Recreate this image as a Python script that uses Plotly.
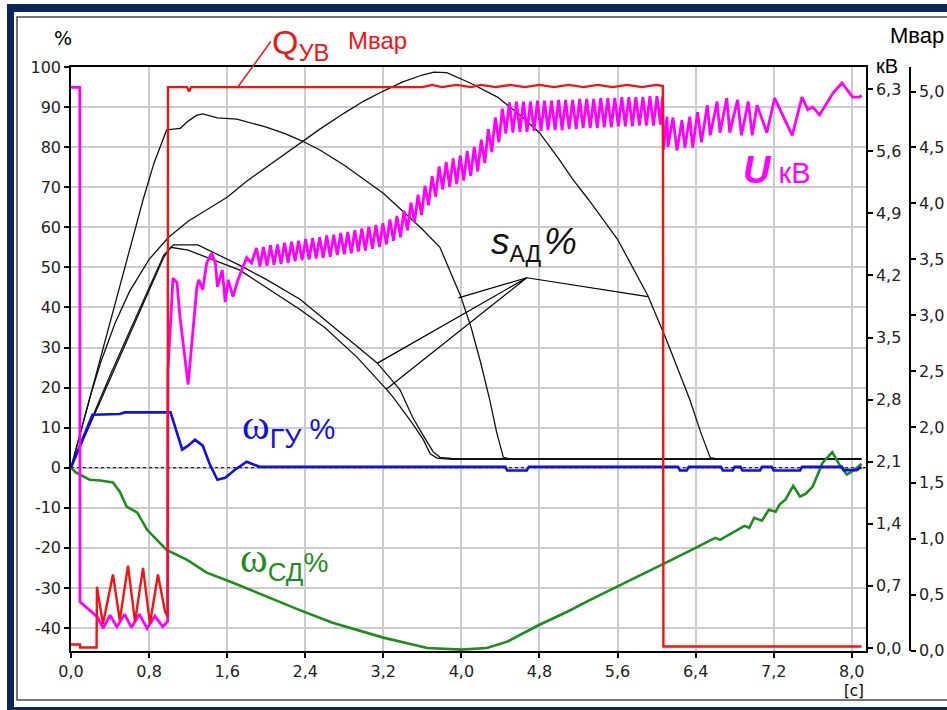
import numpy as np
import plotly.graph_objects as go

# ---------------- ticks ----------------
X_TICKS = [0, 0.8, 1.6, 2.4, 3.2, 4.0, 4.8, 5.6, 6.4, 7.2, 8.0]
X_TICK_TEXT = ["0,0", "0,8", "1,6", "2,4", "3,2", "4,0", "4,8", "5,6", "6,4", "7,2", "8,0"]
PCT_TICKS = [100, 90, 80, 70, 60, 50, 40, 30, 20, 10, 0, -10, -20, -30, -40]
PCT_TICK_TEXT = ["100", "90", "80", "70", "60", "50", "40", "30", "20", "10", "0", "-10", "-20", "-30", "-40"]
KV_TICKS = [0.0, 0.7, 1.4, 2.1, 2.8, 3.5, 4.2, 4.9, 5.6, 6.3]
KV_TICK_TEXT = ["0,0", "0,7", "1,4", "2,1", "2,8", "3,5", "4,2", "4,9", "5,6", "6,3"]
MVAR_TICKS = [0.0, 0.5, 1.0, 1.5, 2.0, 2.5, 3.0, 3.5, 4.0, 4.5, 5.0]
MVAR_TICK_TEXT = ["0,0", "0,5", "1,0", "1,5", "2,0", "2,5", "3,0", "3,5", "4,0", "4,5", "5,0"]

# ---------------- slip of induction motors s_AD, % ----------------
A_t = [0, 0.1, 0.2, 0.4, 0.6, 0.74, 0.85, 0.94, 0.98, 1.05, 1.12, 1.2, 1.29, 1.35, 1.5, 1.7, 2.0, 2.2, 2.38,
       2.55, 2.8, 3.0, 3.2, 3.4, 3.6, 3.78, 3.99, 4.1, 4.2, 4.29, 4.36, 4.43, 4.5, 8.1]
A_pct = [0, 9, 18, 36, 54, 67, 76, 82, 84.3, 84.5, 84.7, 86.5, 88, 88.3, 87.3, 87, 85, 83.3, 81.4,
         79.3, 75.5, 72, 68.5, 64, 59.5, 55, 43, 35, 26, 17, 9, 2.6, 2.2, 2.2]

B_t = [0, 0.2, 0.4, 0.6, 0.8, 0.95, 1.05, 1.3, 1.73, 2.0, 2.35, 2.7, 3.07, 3.14, 3.37, 3.5, 3.61, 3.71, 3.78, 3.9, 8.1]
B_pct = [0, 11.5, 23, 34, 45, 53, 55.6, 55.6, 50.5, 47, 42, 35, 27.6, 26.1, 19.5, 12.6, 8, 4, 2.6, 2.3, 2.2]

C_t = [0, 0.2, 0.4, 0.6, 0.8, 0.95, 1.02, 1.2, 1.73, 2.0, 2.35, 2.6, 2.93, 3.23, 3.30, 3.5, 3.61, 3.68, 3.75, 3.9, 8.1]
C_pct = [0, 11, 22, 33, 44, 52.5, 55, 54.3, 49.3, 45, 39.4, 35, 27.6, 19.6, 17.6, 11, 7, 3.5, 2.4, 2.1, 2.1]

D_t = [0, 0.1, 0.2, 0.3, 0.45, 0.6, 0.8, 1.0, 1.2, 1.4, 1.6, 1.8, 2.0, 2.2, 2.4, 2.55, 2.8, 3.0, 3.2, 3.4,
       3.6, 3.72, 3.85, 4.09, 4.37, 4.6, 4.8, 5.0, 5.14, 5.3, 5.6, 5.91, 6.1, 6.34, 6.45, 6.55, 6.62, 8.1]
D_pct = [0, 9, 18, 26, 36, 44, 52, 57.5, 61.5, 64.5, 67.5, 71.5, 75, 78.5, 82, 84.5, 88.5, 91.5, 94, 96.3,
         98, 98.7, 98.6, 96, 92.5, 88, 83.6, 77, 72, 67, 57, 43, 32, 17, 9, 2.5, 2.2, 2.2]

# ---------------- speed of hydro unit omega_GU, % ----------------
GU_t = [0, 0.22, 0.5, 0.55, 1.02, 1.08, 1.14, 1.2, 1.27, 1.35, 1.42, 1.5, 1.58, 1.68, 1.8, 1.87, 1.94, 2.0,
        4.45, 4.47, 4.67, 4.69, 6.22, 6.24, 6.31, 6.33, 6.66, 6.68, 6.78, 6.8, 6.86, 6.88, 7.06, 7.08,
        7.18, 7.2, 7.47, 7.49, 7.9, 7.92, 8.05, 8.1]
GU_pct = [0, 13.2, 13.4, 13.8, 13.8, 9, 4.5, 5.5, 7, 5.5, 1, -3, -2.5, -0.5, 1.5, 0.8, 0.2, 0.2,
          0.2, -0.7, -0.7, 0.2, 0.2, -0.7, -0.7, 0.2, 0.2, -0.7, -0.7, 0.2, 0.2, -0.7, -0.7, 0.2,
          0.2, -0.7, -0.7, 0.2, 0.2, -0.6, -0.6, 0.2]

# ---------------- speed of synchronous motor omega_SD, % ----------------
SD_t = [0, 0.05, 0.19, 0.30, 0.43, 0.50, 0.57, 0.68, 0.78, 0.88, 0.98, 1.19, 1.39, 1.66, 2.0, 2.35, 2.68, 3.2,
        3.65, 4.0, 4.26, 4.47, 4.8, 5.08, 5.32, 5.7, 6.07, 6.4, 6.6, 6.65, 6.9, 6.95, 7.0, 7.08, 7.15, 7.22,
        7.26, 7.32, 7.40, 7.47, 7.53, 7.60, 7.70, 7.80, 7.88, 7.95, 8.03, 8.1]
SD_pct = [0, -1.2, -3.0, -3.2, -3.7, -6, -9.7, -11.2, -15.5, -18, -20.5, -23, -26.2, -28.7, -32.2, -35.6, -38.7, -42.4,
          -45, -45.4, -45, -43.4, -39.2, -36, -33, -28.5, -24, -20, -17.5, -18, -14.5, -15, -12.5, -13.2, -10.5, -11,
          -9.2, -8, -4.5, -7.2, -6.5, -4.7, 1.2, 3.9, 0.5, -1.7, -0.5, 1.0]

# ---------------- voltage U, kV ----------------
U_t_pre = [0, 0.09, 0.092, 0.27, 0.33, 0.40, 0.47, 0.55, 0.62, 0.70, 0.78, 0.86, 0.94, 0.99, 0.994, 1.045, 1.086,
           1.117, 1.2, 1.24, 1.29, 1.31, 1.35, 1.39, 1.44, 1.48, 1.5, 1.55, 1.58, 1.61, 1.66, 1.71, 1.75, 1.80, 1.85]
U_kv_pre = [6.32, 6.32, 0.52, 0.35, 0.22, 0.37, 0.24, 0.38, 0.23, 0.38, 0.22, 0.36, 0.24, 0.30, 3.13, 4.17, 4.12,
            3.73, 2.97, 3.44, 4.07, 4.15, 4.04, 4.34, 4.45, 4.34, 4.07, 4.26, 3.90, 4.15, 3.96, 4.15, 4.26, 4.40, 4.34]
U_band_start = 1.90   # s, first sample of the rippled section
U_band_step = 0.036   # s, sampling step of the rippled section (peak/trough)
U_band_kv = [4.51, 4.30, 4.52, 4.31, 4.54, 4.32, 4.55, 4.33, 4.57, 4.34, 4.58, 4.36, 4.59, 4.37, 4.61, 4.38,
             4.62, 4.39, 4.63, 4.40, 4.65, 4.41, 4.66, 4.43, 4.68, 4.44, 4.69, 4.45, 4.71, 4.47, 4.73, 4.48,
             4.75, 4.50, 4.77, 4.52, 4.79, 4.55, 4.83, 4.59, 4.87, 4.63, 4.93, 4.71, 5.02, 4.80, 5.11, 4.88,
             5.21, 4.99, 5.32, 5.09, 5.43, 5.17, 5.48, 5.20, 5.52, 5.23, 5.55, 5.27, 5.60, 5.32, 5.65, 5.37,
             5.73, 5.47, 5.85, 5.59, 5.98, 5.70, 6.08, 5.80, 6.15, 5.81, 6.16, 5.82, 6.16, 5.82, 6.16, 5.83,
             6.17, 5.83, 6.17, 5.84, 6.17, 5.84, 6.18, 5.84, 6.18, 5.85, 6.18, 5.85, 6.19, 5.86, 6.19, 5.86,
             6.19, 5.86, 6.20, 5.87, 6.20, 5.87, 6.20, 5.88, 6.21, 5.88, 6.21, 5.88, 6.21, 5.89, 6.21, 5.89,
             6.22, 5.89, 6.22, 5.90]
U_t_post = [6.062, 6.07, 6.107, 6.117, 6.168, 6.209, 6.26, 6.29, 6.34, 6.37, 6.42, 6.46, 6.52, 6.55, 6.62, 6.65,
            6.72, 6.75, 6.83, 6.87, 6.94, 6.98, 7.03, 7.13, 7.21, 7.39, 7.49, 7.55, 7.60, 7.67, 7.81, 7.90, 8.01,
            8.08, 8.10]
U_kv_post = [6.22, 5.62, 5.99, 5.65, 5.98, 5.61, 5.95, 5.64, 5.99, 5.64, 6.04, 5.70, 6.12, 5.78, 6.16, 5.81,
             6.20, 5.81, 6.18, 5.78, 6.16, 5.78, 6.12, 5.81, 6.20, 5.78, 6.21, 6.07, 6.10, 6.01, 6.26, 6.37, 6.21,
             6.21, 6.23]

# ---------------- reactive power Q_UV, Mvar ----------------
Q_t = [0, 0.092, 0.093, 0.262, 0.266, 0.328, 0.43, 0.50, 0.584, 0.656, 0.738, 0.809, 0.891, 0.963, 0.99, 0.994,
       1.19, 1.21, 1.23, 3.6, 3.7, 3.8, 3.95, 4.1, 4.2, 4.35, 4.5, 4.65, 4.8, 4.95, 5.1, 5.25, 5.4, 5.55, 5.7,
       5.85, 6.0, 6.065, 6.07, 8.1]
Q_mvar = [0.054, 0.054, 0.027, 0.027, 0.57, 0.24, 0.68, 0.27, 0.76, 0.26, 0.74, 0.24, 0.68, 0.35, 0.30, 5.04,
          5.04, 5.00, 5.04, 5.04, 5.06, 5.04, 5.06, 5.04, 5.06, 5.04, 5.06, 5.04, 5.06, 5.04, 5.06, 5.04, 5.06, 5.04,
          5.06, 5.04, 5.06, 5.05, 0.036, 0.036]

# sampling grid of the rippled voltage section
U_band_t = list(np.round(U_band_start + U_band_step * np.arange(len(U_band_kv)), 4))
U_t = U_t_pre + U_band_t + U_t_post
U_kv = U_kv_pre + U_band_kv + U_kv_post

# ---------------- colours ----------------
RED = "#f01414"
MAGENTA = "#ff00ff"
BLUE = "#1010e0"
GREEN = "#1e8c1e"
BLACK = "#111111"
GRID = "#cccccc"
NAVY = "#0b2857"

fig = go.Figure()
for tt, yy in [(A_t, A_pct), (B_t, B_pct), (C_t, C_pct), (D_t, D_pct)]:
    fig.add_trace(go.Scatter(x=tt, y=yy, mode="lines", line=dict(color=BLACK, width=1.3), yaxis="y"))
fig.add_trace(go.Scatter(x=SD_t, y=SD_pct, mode="lines", line=dict(color=GREEN, width=2.6), yaxis="y"))
fig.add_trace(go.Scatter(x=GU_t, y=GU_pct, mode="lines", line=dict(color=BLUE, width=2.6), yaxis="y"))
fig.add_trace(go.Scatter(x=U_t, y=U_kv, mode="lines", line=dict(color=MAGENTA, width=2.8), yaxis="y2"))
fig.add_trace(go.Scatter(x=Q_t, y=Q_mvar, mode="lines", line=dict(color=RED, width=2.4), yaxis="y3"))

# pixel -> paper helpers (plot area: x 71..910 paper, y 67..651)
L, R_PAPER, T, B = 71, 910, 67, 651
def px(x):
    return (x - L) / (R_PAPER - L)
def py(y):
    return (B - y) / (B - T)

tickfont = dict(family="DejaVu Sans", size=16, color="#222222")
axis_common = dict(showline=True, linecolor="black", linewidth=1.5, ticks="outside", ticklen=5,
                   tickcolor="black", tickwidth=1.5, tickfont=tickfont, zeroline=False, automargin=False)

fig.update_layout(
    width=947, height=710, autosize=False,
    margin=dict(l=L, r=947 - R_PAPER, t=T, b=710 - B, autoexpand=False),
    paper_bgcolor="white", plot_bgcolor="white", showlegend=False,
    xaxis=dict(domain=[0, (866 - L) / (R_PAPER - L)], range=[0, 8.146], tickvals=X_TICKS, ticktext=X_TICK_TEXT,
               showgrid=True, gridcolor=GRID, gridwidth=1.5, mirror=True, **axis_common),
    yaxis=dict(range=[-45.74, 100], tickvals=PCT_TICKS, ticktext=PCT_TICK_TEXT, showgrid=True,
               gridcolor=GRID, gridwidth=1.5, **axis_common),
    yaxis2=dict(overlaying="y", side="right", anchor="x", range=[-0.034, 6.55], tickvals=KV_TICKS,
                ticktext=KV_TICK_TEXT, showgrid=False, **axis_common),
    yaxis3=dict(overlaying="y", side="right", anchor="free", position=1.0, range=[-0.004, 5.22],
                tickvals=MVAR_TICKS, ticktext=MVAR_TICK_TEXT, showgrid=False, **axis_common),
)

shapes = []
# dotted zero line
shapes.append(dict(type="line", xref="x", yref="y", x0=0, x1=8.146, y0=0, y1=0,
                   line=dict(color="black", width=1, dash="3px,3px"), layer="between"))
# leader lines for s_AD label
s_apex = (4.67, 47.4)
for (lx, ly) in [(5.91, 42.7), (3.97, 42.4), (3.14, 26.1), (3.23, 19.6)]:
    shapes.append(dict(type="line", xref="x", yref="y", x0=s_apex[0], y0=s_apex[1], x1=lx, y1=ly,
                       line=dict(color="black", width=1.2)))
# frame: navy border + thin inner frame
def rect(x0, y0, x1, y1, **kw):
    return dict(type="rect", xref="paper", yref="paper", x0=px(x0), x1=px(x1), y0=py(y1), y1=py(y0), **kw)
shapes.append(rect(17, 17, 975, 700, line=dict(color="#4a4a4a", width=1.5)))
shapes.append(rect(7, 4, 975, 12, fillcolor=NAVY, line=dict(width=0)))
shapes.append(rect(7, 4, 14, 720, fillcolor=NAVY, line=dict(width=0)))
shapes.append(rect(7, 707, 975, 720, fillcolor=NAVY, line=dict(width=0)))
fig.update_layout(shapes=shapes)

def ann(text, x, y, size, color="black", family="Liberation Sans", xanchor="center", yanchor="middle"):
    return dict(text=text, xref="paper", yref="paper", x=px(x), y=py(y), showarrow=False,
                font=dict(size=size, color=color, family=family), xanchor=xanchor, yanchor=yanchor)

annotations = [
    ann("%", 63, 38, 19, family="DejaVu Sans"),
    ann("кВ", 887, 66, 20),
    ann("Мвар", 917, 35, 22),
    ann("[c]", 854, 691, 15, family="DejaVu Sans"),
    ann("Q<sub>УВ</sub>", 270, 44, 34, RED, xanchor="left"),
    ann("Мвар", 346, 41, 24, RED, xanchor="left"),
    ann("<b><i>U</i></b><span style='font-size:29px'> кВ</span>", 741, 170, 38, MAGENTA, xanchor="left"),
    ann("<i>s</i><sub><span style='font-size:23px'>АД</span></sub><span style='font-size:10px'> </span><i>%</i>",
        489, 244, 37, BLACK, xanchor="left"),
    ann("<span style='font-family:Liberation Serif'>ω</span><sub><span style='font-size:27px'>ГУ</span></sub>"
        "<span style='font-size:29px'> %</span>", 240, 428, 42, BLUE, xanchor="left"),
    ann("<span style='font-family:Liberation Serif'>ω</span><sub><span style='font-size:26px'>СД</span></sub>"
        "<span style='font-size:28px'>%</span>", 238, 561, 42, GREEN, xanchor="left"),
    # leader for Q_UV label
    dict(text="", x=1.71, y=95.0, xref="x", yref="y", showarrow=True, arrowhead=0, arrowwidth=1.5,
         arrowcolor=RED, ax=34, ay=-47, standoff=0),
]
fig.update_layout(annotations=annotations)

fig.write_html("out.html")
